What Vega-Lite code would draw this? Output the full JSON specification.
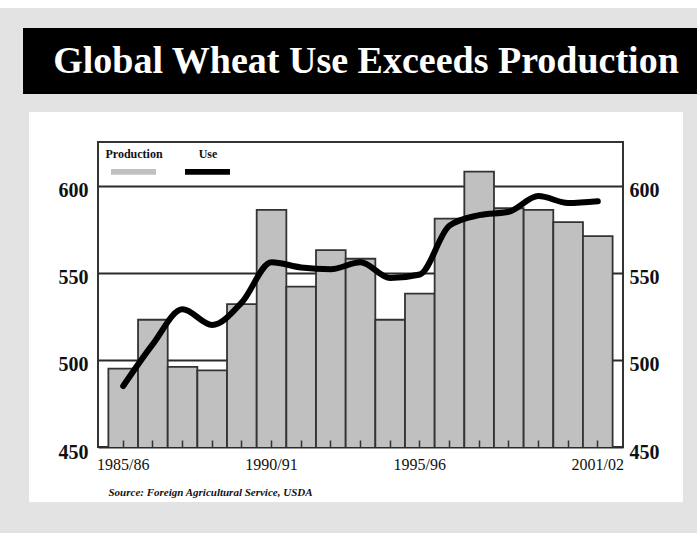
{
  "$schema": "https://vega.github.io/schema/vega-lite/v6.json",
  "background": "white",
  "padding": 0,
  "config": {
    "view": {"stroke": null},
    "concat": {"spacing": 0},
    "font": "Liberation Serif"
  },
  "datasets": {
    "wheat": [
      {"year": "1985/86", "production": 495, "use": 485},
      {"year": "1986/87", "production": 523, "use": 509},
      {"year": "1987/88", "production": 496, "use": 529},
      {"year": "1988/89", "production": 494, "use": 520},
      {"year": "1989/90", "production": 532, "use": 533},
      {"year": "1990/91", "production": 586, "use": 556},
      {"year": "1991/92", "production": 542, "use": 553},
      {"year": "1992/93", "production": 563, "use": 552},
      {"year": "1993/94", "production": 558, "use": 556},
      {"year": "1994/95", "production": 523, "use": 547},
      {"year": "1995/96", "production": 538, "use": 549},
      {"year": "1996/97", "production": 581, "use": 577},
      {"year": "1997/98", "production": 608, "use": 583},
      {"year": "1998/99", "production": 587, "use": 585},
      {"year": "1999/00", "production": 586, "use": 594},
      {"year": "2000/01", "production": 579, "use": 590},
      {"year": "2001/02", "production": 571, "use": 591}
    ]
  },
  "spacing": 0,
  "vconcat": [
    {"width": 697, "height": 8, "data": {"values": []}, "mark": "rect", "encoding": {}},
    {"width": 697, "height": 20, "data": {"values": []}, "mark": "rect", "encoding": {}, "view": {"fill": "#e3e3e3", "stroke": null}},
    {
      "spacing": 0,
      "hconcat": [
        {"width": 23, "height": 66, "data": {"values": []}, "mark": "rect", "encoding": {}, "view": {"fill": "#e3e3e3", "stroke": null}},
        {
          "width": 674, "height": 66,
          "data": {"values": [{"t": "Global Wheat Use Exceeds Production"}]},
          "mark": {"type": "text", "font": "Liberation Serif", "fontSize": 38, "fontWeight": "bold", "color": "white", "align": "center", "baseline": "middle", "dx": 6, "dy": 1},
          "encoding": {"text": {"field": "t"}},
          "view": {"fill": "#000000", "stroke": null}
        }
      ]
    },
    {"width": 697, "height": 18, "data": {"values": []}, "mark": "rect", "encoding": {}, "view": {"fill": "#e3e3e3", "stroke": null}},
    {
      "spacing": 0,
      "hconcat": [
        {"width": 29, "height": 390, "data": {"values": []}, "mark": "rect", "encoding": {}, "view": {"fill": "#e3e3e3", "stroke": null}},
        {
          "spacing": 0,
          "vconcat": [
            {"width": 652, "height": 29, "data": {"values": []}, "mark": "rect", "encoding": {}},
            {
              "spacing": 0,
              "hconcat": [
                {"width": 28, "height": 305, "data": {"values": []}, "mark": "rect", "encoding": {}},
                {
                  "width": 525,
                  "height": 305,
                  "data": {"name": "wheat"},
                  "view": {"stroke": "#333333", "strokeWidth": 2},
                  "layer": [
                    {
                      "mark": {"type": "bar", "stroke": "#333333", "strokeWidth": 1.8, "clip": true},
                      "encoding": {
                        "x": {
                          "field": "year", "type": "ordinal", "sort": null,
                          "scale": {"paddingInner": 0, "paddingOuter": 0.35},
                          "axis": {
                            "labelExpr": "indexof(['1985/86','1990/91','1995/96','2001/02'], datum.value) >= 0 ? datum.value : ''",
                            "labelAngle": 0,
                            "labelFont": "Liberation Serif",
                            "labelFontSize": 16,
                            "labelColor": "#111111",
                            "labelPadding": 16,
                            "labelOverlap": false,
                            "ticks": true,
                            "tickSize": -7,
                            "tickColor": "#333333",
                            "tickWidth": 1.5,
                            "domain": false,
                            "grid": false,
                            "zindex": 1,
                            "title": "Source: Foreign Agricultural Service, USDA",
                            "titleFont": "Liberation Serif",
                            "titleFontSize": 11,
                            "titleFontStyle": "italic",
                            "titleFontWeight": "bold",
                            "titleColor": "#111111",
                            "titleAnchor": "start",
                            "titleAlign": "left",
                            "titleBaseline": "alphabetic",
                            "titleX": 10,
                            "titleY": 48
                          }
                        },
                        "y": {
                          "field": "production", "type": "quantitative",
                          "scale": {"domain": [450, 625], "nice": false, "zero": false},
                          "axis": {
                            "orient": "left",
                            "values": [450, 500, 550, 600],
                            "grid": true,
                            "gridColor": "#2a2a2a",
                            "gridWidth": 1.8,
                            "domain": false,
                            "ticks": false,
                            "labelFont": "Liberation Serif",
                            "labelFontSize": 20,
                            "labelFontWeight": "bold",
                            "labelColor": "#111111",
                            "labelPadding": 10,
                            "labelOffset": 5,
                            "title": null
                          }
                        },
                        "color": {
                          "datum": "Production",
                          "scale": {"domain": ["Production", "Use"], "range": ["#c0c0c0", "#000000"]},
                          "legend": {
                            "orient": "none",
                            "legendX": 111,
                            "legendY": 138,
                            "direction": "horizontal",
                            "title": null,
                            "symbolType": "M-1,0.36H1V0.62H-1Z",
                            "symbolSize": 2025,
                            "symbolStrokeWidth": 0,
                            "symbolOpacity": 1,
                            "labelAlign": "center",
                            "labelBaseline": "bottom",
                            "labelOffset": -22,
                            "labelFont": "Liberation Serif",
                            "labelFontSize": 12,
                            "labelFontWeight": "bold",
                            "labelColor": "#111111",
                            "columnPadding": 22,
                            "padding": 0
                          }
                        }
                      }
                    },
                    {
                      "mark": {"type": "line", "strokeWidth": 6, "interpolate": "monotone", "strokeCap": "round", "strokeJoin": "round"},
                      "encoding": {
                        "x": {"field": "year", "type": "ordinal", "sort": null},
                        "y": {
                          "field": "use", "type": "quantitative",
                          "scale": {"domain": [450, 625], "nice": false, "zero": false},
                          "axis": {
                            "orient": "right",
                            "values": [450, 500, 550, 600],
                            "grid": false,
                            "domain": false,
                            "ticks": false,
                            "labelFont": "Liberation Serif",
                            "labelFontSize": 20,
                            "labelFontWeight": "bold",
                            "labelColor": "#111111",
                            "labelPadding": 6,
                            "labelOffset": 5,
                            "title": null
                          }
                        },
                        "color": {"datum": "Use", "legend": null}
                      }
                    }
                  ],
                  "resolve": {"scale": {"y": "independent"}}
                },
                {"width": 23, "height": 305, "data": {"values": []}, "mark": "rect", "encoding": {}}
              ]
            }
          ]
        },
        {"width": 16, "height": 390, "data": {"values": []}, "mark": "rect", "encoding": {}, "view": {"fill": "#e3e3e3", "stroke": null}}
      ]
    },
    {"width": 697, "height": 31, "data": {"values": []}, "mark": "rect", "encoding": {}, "view": {"fill": "#e3e3e3", "stroke": null}}
  ]
}
